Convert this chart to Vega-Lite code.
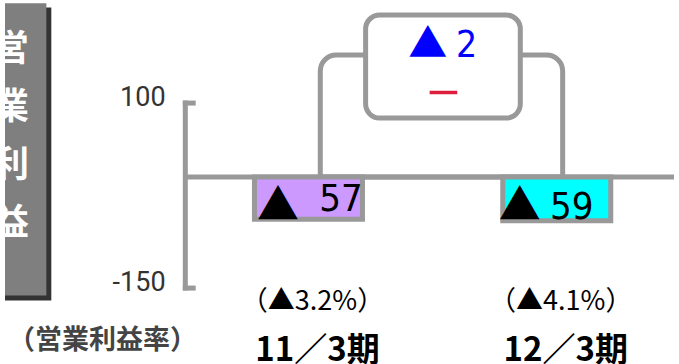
{
  "$schema": "https://vega.github.io/schema/vega-lite/v6.json",
  "width": 679,
  "height": 364,
  "autosize": {"type": "none"},
  "padding": 0,
  "background": "white",
  "config": {"view": {"stroke": null}, "axis": {"disable": true}},
  "data": {"values": [
    {"period": "11/3期", "idx": 1, "value": -57, "num": "57", "pct": "（▲3.2%）", "label": "11／3期"},
    {"period": "12/3期", "idx": 2, "value": -59, "num": "59", "pct": "（▲4.1%）", "label": "12／3期"}
  ]},
  "layer": [
    {
      "data": {"values": [{}]},
      "mark": {"type": "rect", "fill": "#333333"},
      "encoding": {
        "x": {"datum": -0.2222, "type": "quantitative", "scale": {"domain": [-0.2222, 2.4722], "nice": false, "zero": false}},
        "x2": {"datum": -0.0357},
        "y": {"datum": 229, "type": "quantitative", "scale": {"domain": [-252.6, 239.3], "nice": false, "zero": false}},
        "y2": {"datum": -166.9}
      }
    },
    {
      "data": {"values": [{}]},
      "mark": {"type": "rect", "fill": "#7F7F7F"},
      "encoding": {
        "x": {"datum": -0.2222, "type": "quantitative", "scale": {"domain": [-0.2222, 2.4722], "nice": false, "zero": false}},
        "x2": {"datum": -0.0556},
        "y": {"datum": 235, "type": "quantitative", "scale": {"domain": [-252.6, 239.3], "nice": false, "zero": false}},
        "y2": {"datum": -160.1}
      }
    },
    {
      "data": {"values": [{}]},
      "mark": {"type": "text", "text": "営\n業\n利\n益", "lineBreak": "\n", "lineHeight": 58, "font": "Noto Sans CJK JP", "fontWeight": "bold", "fontSize": 36, "fill": "white", "align": "center", "baseline": "middle"},
      "encoding": {
        "x": {"datum": -0.1984, "type": "quantitative", "scale": {"domain": [-0.2222, 2.4722], "nice": false, "zero": false}},
        "y": {"datum": 172.3, "type": "quantitative", "scale": {"domain": [-252.6, 239.3], "nice": false, "zero": false}}
      }
    },
    {
      "data": {"values": [{}]},
      "mark": {"type": "rule", "stroke": "#999999", "strokeWidth": 5, "strokeCap": "square"},
      "encoding": {
        "x": {"datum": 0.504, "type": "quantitative", "scale": {"domain": [-0.2222, 2.4722], "nice": false, "zero": false}},
        "y": {"datum": 100, "type": "quantitative", "scale": {"domain": [-252.6, 239.3], "nice": false, "zero": false}},
        "y2": {"datum": -150}
      }
    },
    {
      "data": {"values": [{"tick": 100, "lbl": "100"}, {"tick": -150, "lbl": "-150"}]},
      "layer": [
        {
          "mark": {"type": "rule", "stroke": "#999999", "strokeWidth": 5, "strokeCap": "square"},
          "encoding": {
            "x": {"datum": 0.504, "type": "quantitative", "scale": {"domain": [-0.2222, 2.4722], "nice": false, "zero": false}},
            "x2": {"datum": 0.5357},
            "y": {"field": "tick", "type": "quantitative", "scale": {"domain": [-252.6, 239.3], "nice": false, "zero": false}}
          }
        },
        {
          "mark": {"type": "text", "font": "Roboto", "fontSize": 27, "fill": "#333333", "align": "right", "baseline": "middle", "dy": -5},
          "encoding": {
            "x": {"datum": 0.4246, "type": "quantitative", "scale": {"domain": [-0.2222, 2.4722], "nice": false, "zero": false}},
            "y": {"field": "tick", "type": "quantitative", "scale": {"domain": [-252.6, 239.3], "nice": false, "zero": false}},
            "text": {"field": "lbl", "type": "nominal"}
          }
        }
      ]
    },
    {
      "data": {"values": [{}]},
      "mark": {"type": "rule", "stroke": "#999999", "strokeWidth": 5},
      "encoding": {
        "x": {"datum": 0.504, "type": "quantitative", "scale": {"domain": [-0.2222, 2.4722], "nice": false, "zero": false}},
        "x2": {"datum": 2.4722},
        "y": {"datum": 0, "type": "quantitative", "scale": {"domain": [-252.6, 239.3], "nice": false, "zero": false}}
      }
    },
    {
      "data": {"values": [{}]},
      "mark": {"type": "rect", "fill": null, "fillOpacity": 0, "stroke": "#999999", "strokeWidth": 5, "cornerRadiusTopLeft": 16, "cornerRadiusTopRight": 16},
      "encoding": {
        "x": {"datum": 1.0476, "type": "quantitative", "scale": {"domain": [-0.2222, 2.4722], "nice": false, "zero": false}},
        "x2": {"datum": 2.0238},
        "y": {"datum": 165, "type": "quantitative", "scale": {"domain": [-252.6, 239.3], "nice": false, "zero": false}},
        "y2": {"datum": 0}
      }
    },
    {
      "data": {"values": [{}]},
      "mark": {"type": "rect", "fill": "white", "stroke": "#999999", "strokeWidth": 5, "cornerRadius": 14},
      "encoding": {
        "x": {"datum": 1.2302, "type": "quantitative", "scale": {"domain": [-0.2222, 2.4722], "nice": false, "zero": false}},
        "x2": {"datum": 1.8532},
        "y": {"datum": 219, "type": "quantitative", "scale": {"domain": [-252.6, 239.3], "nice": false, "zero": false}},
        "y2": {"datum": 79.8}
      }
    },
    {
      "data": {"values": [{}]},
      "mark": {"type": "text", "text": "▲", "font": "Noto Sans CJK JP", "fontSize": 39, "fill": "#0000FF", "align": "center", "baseline": "middle"},
      "encoding": {
        "x": {"datum": 1.4802, "type": "quantitative", "scale": {"domain": [-0.2222, 2.4722], "nice": false, "zero": false}},
        "y": {"datum": 178.5, "type": "quantitative", "scale": {"domain": [-252.6, 239.3], "nice": false, "zero": false}}
      }
    },
    {
      "data": {"values": [{}]},
      "mark": {"type": "text", "text": "2", "font": "'DejaVu Sans Condensed', 'Liberation Sans', sans-serif", "fontSize": 37, "fill": "#0000FF", "align": "center", "baseline": "middle"},
      "encoding": {
        "x": {"datum": 1.6369, "type": "quantitative", "scale": {"domain": [-0.2222, 2.4722], "nice": false, "zero": false}},
        "y": {"datum": 176.5, "type": "quantitative", "scale": {"domain": [-252.6, 239.3], "nice": false, "zero": false}}
      }
    },
    {
      "data": {"values": [{}]},
      "mark": {"type": "rule", "stroke": "#DC1E3C", "strokeWidth": 3.5},
      "encoding": {
        "x": {"datum": 1.4881, "type": "quantitative", "scale": {"domain": [-0.2222, 2.4722], "nice": false, "zero": false}},
        "x2": {"datum": 1.5992},
        "y": {"datum": 114.3, "type": "quantitative", "scale": {"domain": [-252.6, 239.3], "nice": false, "zero": false}}
      }
    },
    {
      "mark": {"type": "bar", "width": 108, "stroke": "#999999", "strokeWidth": 5},
      "encoding": {
        "x": {"field": "idx", "type": "quantitative", "scale": {"domain": [-0.2222, 2.4722], "nice": false, "zero": false}},
        "y": {"field": "value", "type": "quantitative", "scale": {"domain": [-252.6, 239.3], "nice": false, "zero": false}},
        "y2": {"datum": 0},
        "color": {"field": "period", "type": "nominal", "scale": {"range": ["#CC99FF", "#00FFFF"]}, "legend": null}
      }
    },
    {
      "transform": [{"filter": "datum.idx == 1"}],
      "layer": [
        {
          "mark": {"type": "text", "text": "▲", "font": "Noto Sans CJK JP", "fontSize": 42, "fill": "black", "align": "center", "baseline": "middle", "dx": -30.5},
          "encoding": {
            "x": {"field": "idx", "type": "quantitative", "scale": {"domain": [-0.2222, 2.4722], "nice": false, "zero": false}},
            "y": {"datum": -40.5, "type": "quantitative", "scale": {"domain": [-252.6, 239.3], "nice": false, "zero": false}}
          }
        },
        {
          "mark": {"type": "text", "font": "'DejaVu Sans Condensed', 'Liberation Sans', sans-serif", "fontSize": 38, "fill": "black", "align": "center", "baseline": "middle", "dx": 32.5},
          "encoding": {
            "x": {"field": "idx", "type": "quantitative", "scale": {"domain": [-0.2222, 2.4722], "nice": false, "zero": false}},
            "y": {"datum": -30.4, "type": "quantitative", "scale": {"domain": [-252.6, 239.3], "nice": false, "zero": false}},
            "text": {"field": "num", "type": "nominal"}
          }
        }
      ]
    },
    {
      "transform": [{"filter": "datum.idx == 2"}],
      "layer": [
        {
          "mark": {"type": "text", "text": "▲", "font": "Noto Sans CJK JP", "fontSize": 42, "fill": "black", "align": "center", "baseline": "middle", "dx": -37},
          "encoding": {
            "x": {"field": "idx", "type": "quantitative", "scale": {"domain": [-0.2222, 2.4722], "nice": false, "zero": false}},
            "y": {"datum": -40.5, "type": "quantitative", "scale": {"domain": [-252.6, 239.3], "nice": false, "zero": false}}
          }
        },
        {
          "mark": {"type": "text", "font": "'DejaVu Sans Condensed', 'Liberation Sans', sans-serif", "fontSize": 38, "fill": "black", "align": "center", "baseline": "middle", "dx": 15},
          "encoding": {
            "x": {"field": "idx", "type": "quantitative", "scale": {"domain": [-0.2222, 2.4722], "nice": false, "zero": false}},
            "y": {"datum": -41.5, "type": "quantitative", "scale": {"domain": [-252.6, 239.3], "nice": false, "zero": false}},
            "text": {"field": "num", "type": "nominal"}
          }
        }
      ]
    },
    {
      "mark": {"type": "text", "font": "Noto Sans CJK JP", "fontSize": 27, "fill": "black", "align": "center", "baseline": "middle", "dx": 4},
      "encoding": {
        "x": {"field": "idx", "type": "quantitative", "scale": {"domain": [-0.2222, 2.4722], "nice": false, "zero": false}},
        "y": {"datum": -169.2, "type": "quantitative", "scale": {"domain": [-252.6, 239.3], "nice": false, "zero": false}},
        "text": {"field": "pct", "type": "nominal"}
      }
    },
    {
      "mark": {"type": "text", "font": "Noto Sans CJK JP", "fontWeight": "bold", "fontSize": 33, "fill": "black", "align": "center", "baseline": "alphabetic", "dx": 9},
      "encoding": {
        "x": {"field": "idx", "type": "quantitative", "scale": {"domain": [-0.2222, 2.4722], "nice": false, "zero": false}},
        "y": {"datum": -248.5, "type": "quantitative", "scale": {"domain": [-252.6, 239.3], "nice": false, "zero": false}},
        "text": {"field": "label", "type": "nominal"}
      }
    },
    {
      "data": {"values": [{}]},
      "mark": {"type": "text", "text": "（営業利益率）", "font": "Noto Sans CJK JP", "fontWeight": "bold", "fontSize": 27, "fill": "#444444", "align": "center", "baseline": "middle"},
      "encoding": {
        "x": {"datum": 0.1707, "type": "quantitative", "scale": {"domain": [-0.2222, 2.4722], "nice": false, "zero": false}},
        "y": {"datum": -221.5, "type": "quantitative", "scale": {"domain": [-252.6, 239.3], "nice": false, "zero": false}}
      }
    }
  ]
}
